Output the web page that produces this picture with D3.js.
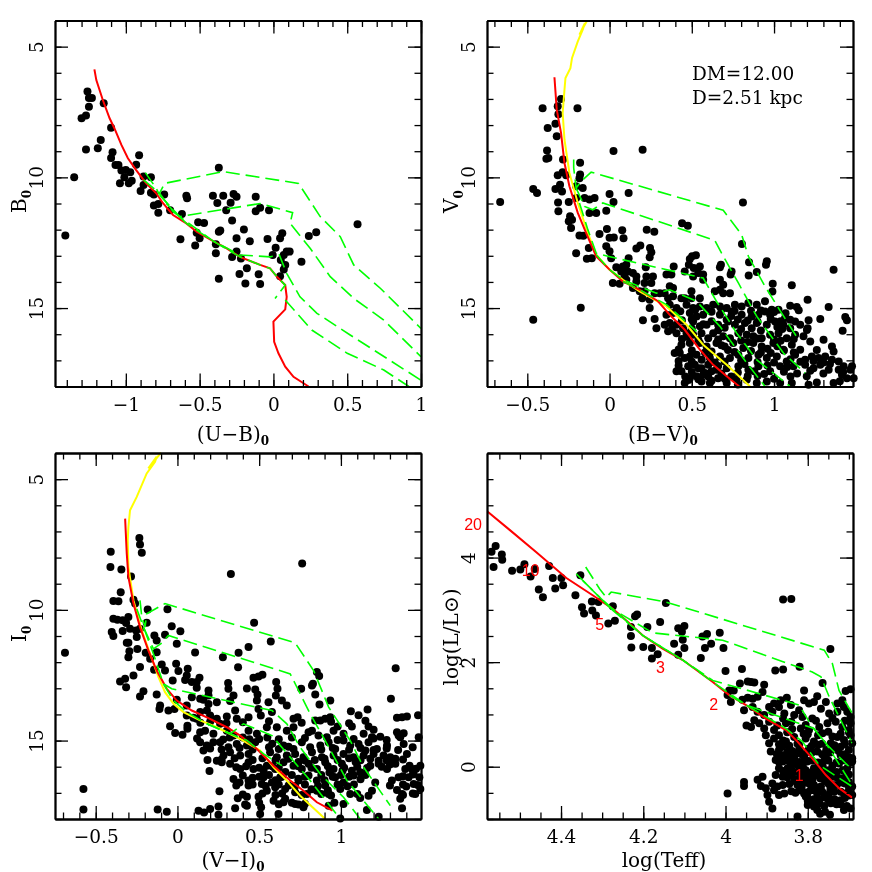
<!DOCTYPE html>
<html>
<head>
<meta charset="utf-8">
<script src="https://cdn.jsdelivr.net/npm/d3@7"></script>
<style>
  body { margin: 0; background: #fff; }
  svg { display: block; filter: blur(0.35px); }
  text { font-family: "DejaVu Serif", serif; fill: #000; }
  .tick text { font-size: 18.5px; }
  .axis path, .axis line { stroke: #000; stroke-width: 1.3; }
  .axis path { stroke-width: 1.8; }
</style>
</head>
<body>
<div id="chart"></div>
<script>
// stars, [colour, magnitude]
var ubStars = [[-1.26,6.72],[-1.25,6.96],[-1.23,6.96],[-1.25,7.3],[-1.27,7.63],[-1.3,7.74],[-1.15,7.17],[-1.1,8.1],[-1.17,8.57],[-1.19,8.89],[-1.27,8.93],[-1.09,9.04],[-1.1,9.26],[-0.91,9.15],[-0.93,9.52],[-1.07,9.53],[-1.05,9.53],[-1.03,9.74],[-1,9.72],[-0.97,9.8],[-1.01,10],[-0.98,10.23],[-0.96,10.13],[-1.04,10.23],[-1.35,10],[-1.41,12.22],[-0.9,10.52],[-0.88,10.29],[-0.88,9.97],[-0.83,10],[-0.83,10.59],[-0.81,10.66],[-0.81,11.08],[-0.78,11.02],[-0.78,11.35],[-0.74,10.66],[-0.7,11.26],[-0.62,11.4],[-0.59,10.7],[-0.585,10.8],[-0.51,11.72],[-0.47,11.75],[-0.52,12.12],[-0.5,12.33],[-0.63,12.37],[-0.53,12.61],[-0.39,12.56],[-0.39,12.9],[-0.37,12.08],[-0.36,12.03],[-0.41,10.7],[-0.34,10.7],[-0.37,9.63],[-0.38,10.98],[-0.29,10.97],[-0.27,10.64],[-0.25,10.74],[-0.32,11.26],[-0.28,11.65],[-0.2,11.99],[-0.25,12.33],[-0.16,12.44],[-0.12,10.74],[-0.12,11.3],[-0.09,11.16],[-0.03,11.26],[-0.04,12.36],[0.045,12.33],[0.06,12.14],[0.015,12.69],[-0.005,12.97],[0.07,12.97],[0.09,12.84],[0.11,12.84],[0.05,13.16],[0.08,13.35],[0.07,13.52],[0.045,13.78],[0.19,13.23],[-0.25,12.84],[-0.28,13.05],[-0.22,13.1],[-0.18,13.48],[-0.23,13.7],[-0.19,14.06],[-0.1,13.71],[-0.09,14.08],[-0.37,13.88],[0.24,12.24],[0.29,12.1],[0.57,11.79]];
var ubRed = [[-1.213,5.87],[-1.2,6.28],[-1.156,7.04],[-1.11,7.74],[-1.077,8.13],[-1.03,8.76],[-0.986,9.27],[-0.93,9.72],[-0.862,10.23],[-0.794,10.61],[-0.748,10.99],[-0.68,11.44],[-0.59,11.76],[-0.52,12.08],[-0.408,12.44],[-0.317,12.72],[-0.227,13.04],[-0.09,13.35],[-0.023,13.48],[0.023,13.8],[0.08,14.12],[0.09,14.57],[0.08,15.05],[0,15.52],[0.005,16.29],[0.034,16.73],[0.08,17.24],[0.136,17.63],[0.238,18]];
var ubGreen = [
  [[-0.868,9.82],[-0.794,10.42],[-0.775,10.64],[-0.737,10.23],[-0.34,9.78],[0.17,10.23],[0.317,11.5],[0.453,12.27],[0.544,13.35],[0.726,14.25],[1,15.78]],
  [[-0.88,10.1],[-0.771,10.61],[-0.68,11.31],[-0.635,11.5],[-0.09,11],[0.13,11.35],[0.113,11.76],[0.25,12.72],[0.385,13.8],[0.544,14.63],[0.748,15.46],[1,16.86]],
  [[-0.771,10.68],[-0.635,11.5],[-0.408,12.44],[-0.227,12.97],[-0.023,13.04],[0.04,12.97],[0.09,13.67],[0.18,14.57],[0.295,15.2],[0.52,16.03],[1,17.76]],
  [[-0.726,11],[-0.59,11.76],[-0.408,12.44],[-0.227,13.04],[-0.09,13.35],[-0.023,13.48],[0.023,13.8],[0.08,14.12],[0.011,14.63]],
  [[0.08,14.69],[0.26,15.84],[0.5,16.73],[0.748,17.37],[0.918,18]]
];

var bvStars = [[-0.295,7],[-0.315,7.28],[-0.407,7.36],[-0.195,7.36],[-0.311,7.59],[-0.329,7.95],[-0.376,8.11],[-0.321,8.43],[-0.38,8.97],[-0.372,9.26],[-0.384,9.29],[-0.283,9.32],[-0.179,9.44],[-0.315,9.92],[-0.285,9.8],[-0.264,9.92],[-0.179,9.89],[-0.183,10.03],[-0.329,10.45],[-0.301,10.28],[-0.289,10.54],[-0.203,10.34],[-0.163,10.41],[-0.464,10.45],[-0.441,10.6],[-0.665,10.94],[-0.313,10.96],[-0.311,11.3],[-0.248,10.94],[-0.203,10.79],[-0.152,10.79],[-0.122,10.85],[-0.091,10.79],[0,10.64],[0.116,10.6],[0.024,10.94],[-0.02,11.28],[-0.081,11.36],[-0.122,11.36],[-0.24,11.49],[-0.228,11.62],[-0.248,11.68],[-0.234,11.94],[-0.183,12.22],[-0.159,12.23],[-0.016,11.98],[-0.061,12.17],[0.077,12.02],[0.226,12],[0.272,12.08],[0,12.31],[0.026,12.3],[0.085,12.33],[0.441,11.76],[0.476,11.85],[0.024,8.99],[0.201,8.94],[0.811,10.96],[0.805,12.55],[-0.203,12.9],[-0.126,12.7],[-0.138,13.11],[-0.108,13.09],[-0.02,12.64],[0,12.83],[0.163,12.72],[0.187,12.61],[0.246,12.7],[0.254,12.86],[0.244,13.06],[0.01,13.09],[0.116,13.09],[0.502,13.02],[0.525,12.98],[0.488,13.12],[0.482,13.34],[0.512,13.47],[0.549,13.41],[0.677,13.34],[0.671,13.44],[0.742,13.6],[0.736,13.72],[0.848,13.25],[0.956,13.21],[0.951,13.34],[0.895,13.62],[0.846,13.75],[1.362,13.53],[0.992,14.07],[0.99,14.37],[1.108,14.13],[0.041,13.44],[0.081,13.41],[0.102,13.34],[0.071,13.6],[0.112,13.6],[0.091,13.79],[0.142,13.66],[0.163,13.79],[0.22,13.44],[0.346,13.72],[0.39,13.41],[0.376,13.72],[0.224,13.79],[0.264,13.79],[0.213,14.04],[0.254,14.04],[0.163,13.98],[0.02,14.04],[0.061,14.07],[0.102,13.92],[0.142,14.23],[0.183,14.36],[0.213,14.36],[0.274,14.43],[0.305,14.43],[0.366,14.17],[0.386,14.23],[0.335,14.43],[0.356,14.62],[0.386,14.55],[0.457,13.6],[0.539,13.66],[0.569,13.72],[0.569,13.92],[0.508,13.79],[0.671,13.92],[0.691,14.11],[0.671,14.3],[0.64,14.36],[0.691,14.43],[0.732,14.43],[0.498,14.36],[0.457,14.62],[0.437,14.62],[0.498,14.62],[0.549,14.62],[0.199,14.62],[0.244,14.68],[0.244,15],[0.203,15.47],[0.274,15.42],[0.285,15.77],[-0.175,14.99],[-0.464,15.45],
  [0.366,14.87],[0.407,15],[0.468,14.87],[0.508,15],[0.549,14.94],[0.59,15],[0.63,14.87],[0.671,14.94],[0.712,15],[0.762,14.87],[0.803,14.94],[0.844,14.81],[0.895,14.87],[0.945,14.74],[0.986,15.06],[1.027,15.06],[1.098,14.91],[1.138,14.96],[1.204,14.68],[1.332,14.96],
  [0.346,15.26],[0.386,15.19],[0.488,15.19],[0.529,15.32],[0.569,15.26],[0.671,15.26],[0.712,15.45],[0.742,15.13],[0.803,15.26],[0.864,15.32],[0.905,15.26],[0.945,15.13],[0.976,15.26],[1.067,15.38],[1.098,15.45],[1.128,15.51],[1.21,15.47],[1.281,15.42],[1.433,15.34],[1.443,15.47],
  [0.335,15.64],[0.366,15.57],[0.407,15.64],[0.447,15.77],[0.508,15.51],[0.549,15.7],[0.59,15.64],[0.66,15.64],[0.72,15.51],[0.762,15.64],[0.823,15.57],[0.864,15.77],[0.895,15.57],[0.956,15.64],[1.006,15.51],[1.057,15.64],[1.098,15.77],[1.159,15.64],[1.204,15.77],[1.417,15.87],
  [0.356,15.89],[0.407,15.96],[0.468,15.96],[0.508,16.02],[0.559,15.96],[0.63,15.96],[0.691,16.08],[0.732,16.15],[0.783,15.96],[0.834,16.02],[0.874,16.08],[0.925,16.15],[0.976,16.02],[1.027,15.96],[1.077,16.15],[1.128,16.02],[1.179,16.08],
  [0.488,16.34],[0.437,16.4],[0.549,16.34],[0.59,16.47],[0.65,16.34],[0.7,16.47],[0.752,16.34],[0.813,16.53],[0.874,16.34],[0.925,16.47],[0.996,16.34],[1.057,16.59],[1.108,16.4],[1.159,16.59],[1.22,16.28],[1.301,16.21],[1.352,16.47],[1.362,16.66],
  [0.396,16.72],[0.427,16.72],[0.457,16.91],[0.488,16.85],[0.529,16.79],[0.61,16.91],[0.671,16.85],[0.732,16.91],[0.783,16.79],[0.844,16.91],[0.905,16.79],[0.956,16.91],[1.017,16.85],[1.077,17.04],[1.128,16.79],[1.189,16.98],[1.23,16.85],[1.27,16.91],[1.311,16.85],[1.352,16.98],[1.393,17.04],
  [0.407,17.42],[0.437,17.42],[0.478,17.23],[0.518,17.17],[0.559,17.3],[0.6,17.17],[0.65,17.36],[0.712,17.3],[0.783,17.23],[0.844,17.36],[0.905,17.23],[0.976,17.42],[1.037,17.23],[1.118,17.23],[1.189,17.17],[1.24,17.3],[1.281,17.17],[1.332,17.36],[1.393,17.36],[1.423,17.23],[1.474,17.23],
  [0.457,17.87],[0.488,17.68],[0.529,17.61],[0.559,17.81],[0.61,17.87],[0.569,17.55],[0.66,17.68],[0.712,17.87],[0.773,17.74],[0.834,17.74],[0.895,17.87],[0.956,17.81],[1.037,17.87],[1.108,17.87],[1.199,17.61],[1.21,17.93],[1.362,17.87],[1.413,17.55],[1.443,17.68],[1.484,17.68],[1.464,17.36],
  [0.43,15.12],[0.52,15.07],[0.62,15.14],[0.68,15.05],[0.76,15.11],[0.92,15.09],[1,15.15],[1.15,15.08],[0.44,15.47],[0.5,15.43],[0.62,15.5],[0.78,15.44],[0.84,15.48],[0.98,15.42],[1.04,15.5],[1.07,15.2],[0.38,15.82],[0.5,15.78],[0.66,15.85],[0.7,15.75],[0.8,15.8],[0.92,15.86],[1.05,15.8],[1.2,15.84],[0.44,16.18],[0.54,16.22],[0.6,16.15],[0.66,16.2],[0.8,16.24],[0.9,16.16],[1,16.2],[1.04,16.25],[1.12,16.18],[0.42,16.58],[0.5,16.62],[0.62,16.66],[0.72,16.6],[0.86,16.64],[0.96,16.56],[1.06,16.62],[1.12,16.7],[1.26,16.6],[0.42,17.02],[0.5,17.05],[0.56,16.98],[0.64,17.08],[0.7,17.04],[0.8,17],[0.9,17.06],[1,17.08],[1.1,16.96],[1.16,17.05],[1.24,17.02],[1.3,17.08],[0.42,17.2],[0.5,17.45],[0.58,17.48],[0.62,17.42],[0.68,17.5],[0.78,17.46],[0.88,17.42],[0.94,17.52],[1.06,17.44],[1.14,17.5],[1.3,17.5],[1.42,17.45],[0.48,17.75],[0.54,17.72],[0.62,17.78],[0.7,17.7],[0.78,17.92],[0.9,17.6],[1,17.7],[1.1,17.62],[1.26,17.85],[1.4,17.8],
  [0.57,15.62],[0.74,15.3],[0.86,15.1],[0.9,15.52],[1.02,15.72],[0.47,16.1],[0.58,16.7],[0.68,16.42],[0.76,16.68],[0.84,16.3],[0.92,16.7],[1.02,16.46],[0.54,17.3],[0.6,17.62],[0.66,17.22],[0.74,17.62],[0.82,17.14],[0.98,16.72],[1.08,17.25],[1.22,17.4],[1.34,17.14],[0.46,17.62],[0.84,17.6],[0.96,17.2]];
var bvYellow = [[-0.136,4],[-0.183,4.54],[-0.15,4.1],[-0.163,4.35],[-0.193,4.8],[-0.228,5.43],[-0.238,5.82],[-0.268,6.2],[-0.274,6.65],[-0.285,7.54],[-0.274,8.56],[-0.244,9.83],[-0.193,10.98],[-0.132,12.13],[-0.081,12.96],[0,13.53],[0.081,13.92],[0.183,14.36],[0.346,14.94],[0.468,15.64],[0.569,16.4],[0.712,17.17],[0.854,18]];
var bvRed = [[-0.335,6.17],[-0.321,7.41],[-0.295,8.3],[-0.274,9.45],[-0.244,10.34],[-0.193,11.36],[-0.142,12.13],[-0.081,13.02],[0,13.53],[0.081,13.98],[0.183,14.3],[0.295,14.74],[0.366,15.26],[0.457,15.83],[0.549,16.59],[0.63,17.17],[0.712,17.61],[0.789,18]];
var bvGreen = [
  [[-0.218,9.32],[-0.218,9.64],[-0.203,10.41],[-0.173,10.15],[-0.112,9.8],[0.691,11.26],[0.803,12.19],[0.844,13.02],[0.945,14.17],[1.027,15],[1.149,16.21]],
  [[-0.203,10.41],[-0.152,11.11],[-0.102,11.24],[-0.041,10.98],[0.64,12.41],[0.681,12.9],[0.783,14.04],[0.895,15.32],[1.057,16.72],[1.189,17.49]],
  [[-0.183,10.98],[-0.132,12],[-0.081,12.9],[-0.01,13.02],[0.569,13.85],[0.65,14.74],[0.773,15.96],[0.895,16.98],[1.098,18]],
  [[-0.081,12.96],[0,13.53],[0.081,13.92],[0.285,14.43],[0.366,14.3],[0.529,14.74],[0.671,15.7],[0.834,17.1],[0.945,18]],
  [[0.081,13.98],[0.183,14.3],[0.346,14.87],[0.529,15.89]]
];

var viStars = [[-0.233,7.25],[-0.229,7.5],[-0.218,7.82],[-0.408,7.78],[-0.41,8.36],[-0.343,8.46],[-0.284,8.72],[0.327,8.63],[0.763,8.23],[-0.347,9.33],[-0.392,9.66],[-0.361,9.67],[-0.269,9.61],[-0.259,9.76],[-0.182,9.99],[-0.061,9.98],[0.469,10.49],[-0.392,10.34],[-0.367,10.38],[-0.335,10.4],[-0.3,10.27],[-0.314,10.5],[-0.188,10.49],[-0.035,10.63],[0.018,10.82],[-0.076,10.95],[-0.402,10.85],[-0.392,11],[-0.335,10.81],[-0.29,10.72],[-0.253,10.79],[-0.229,10.72],[-0.249,11.04],[-0.141,10.98],[-0.127,11.17],[-0.3,11.26],[-0.31,11.26],[-0.004,11.3],[0.571,11.21],[0.435,11.42],[0.374,11.64],[0.108,11.63],[0.278,11.81],[-0.294,11.58],[-0.3,11.81],[-0.245,11.5],[-0.194,11.64],[-0.127,11.62],[-0.167,11.87],[-0.229,12.19],[-0.143,12.29],[-0.008,12.06],[-0.096,12.09],[-0.076,12.32],[0.006,12.34],[0.063,12.25],[0.371,12.2],[1.335,12.23],[-0.269,12.51],[-0.32,12.64],[-0.351,12.74],[-0.314,12.96],[-0.029,12.7],[0.057,12.51],[0.047,12.68],[0.135,12.6],[0.118,12.76],[0.088,12.76],[-0.208,13.11],[-0.229,13.31],[-0.127,13.24],[0.118,12.98],[0.19,13.08],[0.31,12.8],[0.312,13.02],[0.425,13.01],[0.465,12.6],[0.496,12.55],[0.52,12.48],[0.476,13.05],[0.604,12.76],[0.612,13.02],[0.49,13.24],[0.602,13.28],[0.757,13.02],[0.829,12.83],[0.853,12.38],[0.867,12.53],[0.823,12.89],[0.843,13.24],[1.306,13.4],[0.935,13.47],[0.869,13.62],[0.343,13.28],[0.19,13.28],[0.159,13.44],[0.139,13.4],[0.088,13.34],[-0.004,13.44],[-0.106,13.66],[-0.11,13.79],[-0.055,13.85],[-0.018,13.79],[0.057,13.66],[0.19,13.6],[0.241,13.53],[0.322,13.49],[0.486,13.47],[0.557,13.53],[0.639,13.47],[0.669,13.66],[0.353,13.85],[0.496,13.79],[0.51,14.04],[0.578,13.91],[1.061,13.88],[1.108,14.03],[1.163,13.81],[1.472,14.03],[1.343,14.13],[1.374,14.11],[1.404,14.08],[0.935,14.11],[0.904,14.17],[0.874,14.23],[0.843,14.23],[0.735,14.11],[0.71,14.17],[0.302,14.08],[0.363,14.17],[0.435,14.11],[0.18,13.85],[0.2,14.04],[0.139,13.91],[0.057,14.04],[0.098,14.13],[-0.045,14.45],[-0.014,14.71],[0.031,14.78],[0.061,14.55],[0.061,14.43],[0.118,14.17],[0.241,14.17],[0.261,14.36],[0.98,14.46],[0.955,14.62],[1.067,14.46],[1.169,14.46],[1.2,14.59],[1.241,14.85],[1.343,14.68],[1.384,14.72],[1.363,14.87],[1.476,14.87],[1.353,14.81],
  [0.139,14.68],[0.169,14.62],[0.22,14.74],[0.302,14.62],[0.343,14.81],[0.435,14.62],[0.486,14.74],[0.547,14.49],[0.608,14.49],[0.669,14.62],[0.71,14.49],[0.802,14.68],[0.823,14.62],[0.863,14.81],[0.914,14.87],[1.016,14.74],[1.078,14.94],[1.139,14.74],[1.19,14.87],[1.282,15.19],
  [0.139,15.06],[0.18,15.19],[0.159,15.38],[0.22,15.06],[0.261,15.06],[0.312,15.26],[0.363,15.13],[0.425,15.19],[0.476,15.06],[0.649,15.19],[0.71,15.32],[0.761,15.06],[0.812,15.26],[0.874,15.19],[0.925,15.06],[0.965,15.32],[1.016,15],[1.057,15.19],[1.108,15.13],[1.169,15.06],[1.22,15.32],[1.384,15.13],[1.404,15.51],[1.439,15.26],
  [0.184,15.74],[0.241,15.77],[0.282,15.57],[0.322,15.45],[0.384,15.57],[0.435,15.51],[0.567,15.45],[0.608,15.64],[0.669,15.57],[0.72,15.51],[0.771,15.64],[0.823,15.45],[0.884,15.64],[0.955,15.57],[1.016,15.51],[1.078,15.64],[1.139,15.57],[1.2,15.51],[1.261,15.57],[1.302,15.64],[1.333,15.7],[1.231,15.77],
  [0.196,16.16],[0.271,15.83],[0.322,15.89],[0.384,16.09],[0.435,15.83],[0.465,16.09],[0.547,15.96],[0.527,16.15],[0.598,16.09],[0.649,15.83],[0.71,15.96],[0.761,16.09],[0.802,15.89],[0.853,16.09],[0.904,15.83],[0.955,16.09],[1.006,15.89],[1.067,16.15],[1.118,16.21],[1.18,15.96],[1.231,15.89],[1.282,16.09],[1.333,15.89],[1.394,16.09],[1.435,16.09],[1.486,15.96],[1.445,16.28],
  [0.343,16.47],[0.38,16.6],[0.435,16.53],[0.435,16.72],[0.527,16.4],[0.516,16.66],[0.578,16.6],[0.629,16.4],[0.68,16.72],[0.741,16.53],[0.802,16.34],[0.853,16.53],[0.904,16.72],[0.965,16.4],[1.016,16.6],[1.078,16.34],[1.129,16.28],[1.21,16.6],[1.312,16.53],[1.353,16.4],[1.414,16.4],[1.445,16.66],
  [0.257,16.94],[0.425,17.15],[0.369,17.21],[0.496,17.15],[0.547,16.92],[0.598,16.79],[0.659,16.85],[0.72,16.98],[0.659,17.23],[0.792,17.04],[0.853,16.92],[0.925,17.04],[0.996,16.85],[1.057,17.04],[1.118,17.2],[1.169,17.11],[1.19,16.92],[1.343,16.89],[1.374,17.04],[1.455,17.04],[1.486,16.85],[1.363,17.23],
  [0.588,17.3],[0.649,17.36],[0.72,17.43],[0.741,17.45],[0.425,17.49],[0.414,17.45],[0.512,17.55],[0.353,17.59],[0.251,17.52],[0.2,17.62],[0.251,17.84],[0.129,17.68],[0.163,17.75],[-0.121,17.64],[-0.065,17.72],[0.506,17.81],[0.618,17.81],[0.771,17.55],[0.925,17.49],[1.016,17.43],[1.374,17.59],[1.159,17.66],[0.996,17.98],[1.231,17.91],[-0.575,16.85],[-0.575,17.64],[-0.688,11.64],
  [0.14,14.32],[0.2,14.28],[0.3,14.34],[0.4,14.3],[0.56,14.26],[0.76,14.32],[0.94,14.28],[1.05,14.34],[1.15,14.24],[0.12,14.92],[0.28,14.96],[0.4,14.88],[0.5,14.94],[0.55,14.88],[0.62,14.95],[0.78,14.9],[0.98,14.98],[1.2,14.92],[1.28,14.98],[0.2,15.3],[0.27,15.34],[0.38,15.28],[0.46,15.34],[0.56,15.26],[0.62,15.32],[0.68,15.24],[0.88,15.34],[0.95,15.28],[1.05,15.35],[1.12,15.28],[1.2,15.36],[1.28,15.3],[1.35,15.36],[0.27,15.72],[0.35,15.68],[0.46,15.74],[0.52,15.68],[0.6,15.74],[0.68,15.7],[0.78,15.76],[0.9,15.7],[0.98,15.74],[1.05,15.68],[1.12,15.75],[1.18,15.7],[1.28,15.76],[1.38,15.72],[0.36,16.02],[0.42,15.98],[0.5,16.04],[0.58,15.98],[0.62,16.04],[0.74,15.98],[0.82,16.04],[0.92,15.98],[1.02,16.04],[1.1,16],[1.16,16.05],[1.25,16],[1.42,15.96],[1.46,16.08],[0.4,16.34],[0.5,16.38],[0.56,16.32],[0.64,16.38],[0.7,16.32],[0.78,16.38],[0.88,16.32],[0.95,16.38],[1,16.32],[1.05,16.38],[1.15,16.32],[1.38,16.36],[1.44,16.3],[1.48,16.4],[0.36,16.72],[0.46,16.68],[0.54,16.74],[0.62,16.68],[0.72,16.74],[0.78,16.68],[0.86,16.74],[0.98,16.68],[1.04,16.75],[1.08,16.68],[1.3,16.72],[1.38,16.68],[1.4,16.76],[1.47,16.7],[0.4,17.06],[0.52,17.02],[0.6,17.08],[0.64,17.02],[0.76,17.08],[0.88,17.04],[0.94,17.1],[1.1,17.04],[1.38,17.08],[1.44,17.02],[0.5,17.38],[0.62,17.44],[0.7,17.38],[0.78,17.42],[0.96,17.38],
  [0.74,15.82],[0.84,15.74],[0.93,16.22],[1.09,15.82],[1.15,15.38],[1.3,15.92],[0.66,16.2],[0.74,16.46],[0.9,16.52],[1.01,16.15],[1.12,16.48],[0.6,16.52],[0.82,16.86],[0.92,16.9],[0.58,15.12],[0.44,14.95],[0.7,14.88],[0.32,14.88],[0.46,16.42]];
var viYellow = [[-0.1,3.99],[-0.178,4.59],[-0.127,4.14],[-0.137,4.34],[-0.188,4.78],[-0.249,5.68],[-0.29,6.19],[-0.3,6.83],[-0.304,7.34],[-0.3,8.36],[-0.269,9.64],[-0.218,10.79],[-0.167,11.68],[-0.116,12.57],[-0.076,13.15],[-0.024,13.59],[0.037,13.91],[0.139,14.23],[0.241,14.49],[0.384,14.94],[0.506,15.38],[0.588,16.02],[0.669,16.53],[0.751,17.11],[0.904,18]];
var viRed = [[-0.32,6.51],[-0.31,7.85],[-0.3,8.74],[-0.269,9.76],[-0.229,10.66],[-0.178,11.55],[-0.127,12.32],[-0.065,13.02],[-0.004,13.47],[0.088,13.85],[0.18,14.11],[0.302,14.49],[0.384,14.81],[0.486,15.32],[0.588,15.96],[0.69,16.53],[0.771,16.92],[0.853,17.36],[0.949,17.68]];
var viGreen = [
  [[-0.229,9.64],[-0.218,10.27],[-0.198,10.66],[-0.188,10.15],[-0.076,9.76],[0.72,11.26],[0.833,12.32],[0.925,13.72],[1.057,15],[1.139,16.02],[1.302,17.49]],
  [[-0.208,10.66],[-0.147,11.49],[-0.096,11.27],[-0.055,10.98],[0.69,12.45],[0.731,12.96],[0.812,13.98],[0.904,15],[1.037,16.53],[1.231,18]],
  [[-0.249,9.96],[-0.147,11.68],[-0.086,12.83],[-0.035,13.02],[0.578,13.85],[0.669,14.36],[0.751,15.26],[0.874,16.28],[1.016,17.17],[1.118,18]],
  [[-0.086,12.83],[-0.024,13.47],[0.057,13.91],[0.18,14.36],[0.322,14.74],[0.404,14.36],[0.578,14.81],[0.69,15.64],[0.812,16.53],[0.996,18]],
  [[0.18,14.36],[0.322,14.74],[0.425,15],[0.527,15.51],[0.639,15.96]]
];

var hrStars = [[4.569,4.11],[4.559,4.22],[4.544,4.06],[4.543,3.96],[4.564,3.82],[4.519,3.75],[4.499,3.77],[4.489,3.87],[4.464,3.78],[4.474,3.64],[4.429,3.84],[4.42,3.61],[4.399,3.61],[4.414,3.41],[4.395,3.47],[4.454,3.39],[4.444,3.24],[4.365,3.28],[4.353,3.66],[4.349,3.05],[4.344,2.93],[4.325,3.16],[4.324,2.99],[4.315,2.89],[4.309,3.15],[4.274,3.07],[4.285,2.74],[4.269,2.79],[4.22,2.88],[4.215,2.91],[4.23,2.67],[4.23,2.5],[4.229,2.28],[4.2,2.29],[4.179,2.27],[4.179,2.07],[4.165,2.15],[4.19,2.67],[4.159,2.77],[4.115,2.65],[4.1,2.69],[4.106,2.58],[4.104,2.43],[4.1,2.27],[4.125,2.35],[4.115,2.14],[4.06,2.08],[4.05,2.27],[4.035,2.35],[4.056,2.49],[4.045,2.54],[4.014,2.56],[4.005,2.27],[4.145,3.13],[3.86,3.2],[3.84,3.21],[3.745,2.25],[3.879,1.84],[3.86,1.86],[3.82,1.91],[4,1.83],[3.96,1.87],[3.965,1.59],[3.946,1.63],[3.938,1.62],[3.93,1.61],[3.906,1.57],[3.764,1.6],[3.991,1.46],[3.98,1.46],[3.995,1.37],[3.987,1.24],[3.959,1.28],[3.946,1.32],[3.934,1.3],[3.922,1.34],[3.91,1.43],[3.696,1.48],[3.708,1.45],[3.809,1.46],[3.809,1.27],[3.777,1.35],[3.851,1.32],[3.866,1.27],[3.882,1.21],[3.894,1.14],[3.87,1.14],[3.841,1.18],[3.821,1.08],[3.797,1.21],[3.785,1.24],[3.756,1.24],[3.728,1.21],[3.716,1.27],[3.949,0.79],[3.938,0.76],[3.995,-0.51],[3.955,-0.29],[3.955,-0.37],[3.922,-0.25],[3.914,-0.37],[3.91,-0.19],[3.825,-0.95],[3.746,-0.92],[3.886,-0.8],[3.894,-0.67],[3.902,-0.41],[3.898,-0.54],
  [3.955,1.08],[3.934,1.14],[3.922,1.05],[3.906,0.99],[3.886,1.05],[3.857,1.02],[3.833,0.99],[3.813,0.95],[3.789,0.92],[3.768,1.11],[3.748,1.02],[3.728,1.05],[3.712,1.14],[3.696,0.95],[3.704,1.05],
  [3.93,0.89],[3.918,0.83],[3.906,0.73],[3.894,0.86],[3.874,0.79],[3.853,0.83],[3.84,0.86],[3.817,0.73],[3.797,0.7],[3.772,0.76],[3.752,0.83],[3.732,0.86],[3.716,0.76],[3.696,0.83],[3.7,0.7],
  [3.902,0.6],[3.894,0.45],[3.882,0.54],[3.87,0.6],[3.853,0.48],[3.833,0.57],[3.821,0.41],[3.805,0.54],[3.785,0.48],[3.764,0.64],[3.744,0.45],[3.728,0.57],[3.712,0.51],[3.696,0.6],[3.692,0.45],[3.882,0.7],
  [3.89,0.29],[3.87,0.32],[3.857,0.22],[3.845,0.35],[3.829,0.25],[3.809,0.19],[3.797,0.35],[3.777,0.29],[3.756,0.19],[3.736,0.35],[3.72,0.22],[3.7,0.32],[3.692,0.16],[3.878,0.13],[3.841,0.19],[3.821,0.32],
  [3.861,0.1],[3.849,-0.03],[3.833,0.06],[3.817,-0.06],[3.801,0.1],[3.785,-0.03],[3.764,0.03],[3.744,-0.06],[3.724,0.06],[3.704,-0.03],[3.692,0.1],[3.878,-0.16],[3.853,-0.13],[3.825,0.03],
  [3.813,-0.19],[3.797,-0.32],[3.781,-0.16],[3.76,-0.25],[3.74,-0.35],[3.72,-0.22],[3.7,-0.29],[3.692,-0.38],[3.833,-0.25],[3.789,-0.25],[3.861,-0.19],[3.886,-0.32],[3.874,-0.38],[3.861,-0.35],[3.768,-0.38],[3.748,-0.16],
  [3.882,-0.45],[3.87,-0.54],[3.857,-0.51],[3.809,-0.51],[3.793,-0.45],[3.777,-0.51],[3.756,-0.54],[3.736,-0.48],[3.712,-0.51],[3.789,-0.67],[3.772,-0.7],[3.744,-0.7],[3.72,-0.64],[3.777,-0.83],[3.785,-0.76],[3.712,-0.83],[3.696,-0.8],[3.805,-0.57],[3.692,-0.54],
  [3.86,0.92],[3.78,0.88],[3.74,0.93],[3.71,0.88],[3.85,0.66],[3.81,0.63],[3.75,0.67],[3.72,0.63],[3.7,0.66],[3.87,0.43],[3.845,0.4],[3.825,0.44],[3.79,0.4],[3.765,0.44],[3.735,0.41],[3.71,0.43],[3.875,0.24],[3.85,0.27],[3.815,0.24],[3.79,0.27],[3.765,0.24],[3.745,0.27],[3.71,0.24],[3.87,0.09],[3.85,0.12],[3.82,0.09],[3.79,0.12],[3.775,0.08],[3.75,0.12],[3.73,0.08],[3.71,0.12],[3.695,0.08],[3.86,-0.08],[3.84,-0.06],[3.825,-0.1],[3.805,-0.07],[3.775,-0.1],[3.755,-0.07],[3.73,-0.1],[3.715,-0.07],[3.85,-0.2],[3.82,-0.22],[3.805,-0.18],[3.77,-0.22],[3.74,-0.19],[3.71,-0.21],[3.845,-0.33],[3.825,-0.35],[3.81,-0.31],[3.785,-0.35],[3.75,-0.32],[3.73,-0.35],[3.71,-0.32],[3.84,-0.47],[3.82,-0.45],[3.8,-0.49],[3.785,-0.45],[3.765,-0.48],[3.745,-0.45],[3.72,-0.48],[3.7,-0.46],[3.8,-0.6],[3.785,-0.62],[3.76,-0.59],[3.735,-0.62],[3.71,-0.6],[3.8,-0.73],[3.76,-0.75],[3.73,-0.72],[3.705,-0.75],
  [3.838,0.72],[3.805,0.8],[3.775,0.6],[3.74,0.58],[3.86,0.5],[3.8,0.62],[3.775,0.42],[3.72,0.38],[3.862,0.38],[3.838,0.3],[3.802,0.28],[3.755,0.32],[3.725,0.3],[3.862,0.2],[3.832,0.14],[3.805,0.13],[3.76,0.12],[3.7,0.18],[3.842,0.02],[3.812,0.01],[3.772,0.02],[3.74,0.02],[3.87,-0.03],[3.838,-0.14],[3.795,-0.12],[3.765,-0.13],[3.73,-0.2],[3.7,-0.15],[3.83,-0.28],[3.795,-0.24],[3.755,-0.28],[3.72,-0.3],[3.7,-0.38],[3.815,-0.4],[3.78,-0.4],[3.745,-0.38],[3.83,-0.5],[3.75,-0.55],[3.7,-0.55],[3.772,-0.62],[3.75,-0.63],[3.72,-0.72],[3.758,-0.86],[3.8,-0.65],[3.77,-0.9]];
var hrRed = [[4.579,4.88],[4.525,4.53],[4.46,4.1],[4.387,3.61],[4.323,3.28],[4.274,3.02],[4.242,2.8],[4.201,2.51],[4.153,2.26],[4.104,2.04],[4.031,1.62],[3.991,1.37],[3.95,1.18],[3.902,0.92],[3.853,0.7],[3.825,0.48],[3.789,0.16],[3.756,-0.16],[3.724,-0.41],[3.692,-0.59]];
var hrGreen = [
  [[4.34,3.82],[4.306,3.4],[4.29,3.24],[4.278,3.34],[4.145,3.15],[3.76,2.23],[3.74,1.97],[3.724,1.46],[3.692,1.02]],
  [[4.363,3.69],[4.323,3.37],[4.282,3.05],[4.242,2.86],[4.177,2.56],[4.007,2.42],[3.789,1.81],[3.768,1.72],[3.748,1.34],[3.72,0.89],[3.692,0.45]],
  [[4.347,3.56],[4.274,2.99],[4.201,2.51],[4.104,2.04],[4.031,1.65],[3.821,1.18],[3.789,0.76],[3.752,0.41],[3.692,-0.06]],
  [[4.298,3.18],[4.201,2.51],[4.104,2.04],[4.031,1.62],[3.95,1.18],[3.785,0.73],[3.756,0.45],[3.692,-0.35]],
  [[3.991,1.37],[3.853,0.73],[3.813,0.48],[3.772,0.03],[3.692,-0.38]]
];
var massLabels = ["20", "10", "5", "3", "2", "1"];
var massPos = [[4.614,4.64],[4.474,3.75],[4.306,2.72],[4.158,1.9],[4.029,1.2],[3.821,-0.16]];

var magMinor = d3.range(4, 18.5, 1);
var panels = [
  { left: 55, top: 20.5, xDomain: [-1.48, 1], yDomain: [18, 4], xMajor: [-1, -0.5, 0, 0.5, 1], xMinor: d3.range(-1.4, 1.05, 0.1), yMajor: [5, 10, 15], yMinor: magMinor,
    stars: ubStars, red: ubRed, yellow: null, green: ubGreen, xName: "(U−B)", xSub: "0", xLabelX: 233, xLabelY: 441, yName: "B", ySub: "0", yLabelX: 26, yLabelY: 213 },
  { left: 487, top: 20.5, xDomain: [-0.745, 1.48], yDomain: [18, 4], xMajor: [-0.5, 0, 0.5, 1], xMinor: d3.range(-0.7, 1.45, 0.1), yMajor: [5, 10, 15], yMinor: magMinor,
    stars: bvStars, red: bvRed, yellow: bvYellow, green: bvGreen, xName: "(B−V)", xSub: "0", xLabelX: 663, xLabelY: 441, yName: "V", ySub: "0", yLabelX: 458, yLabelY: 213 },
  { left: 55, top: 453, xDomain: [-0.749, 1.49], yDomain: [18, 4], xMajor: [-0.5, 0, 0.5, 1], xMinor: d3.range(-0.7, 1.45, 0.1), yMajor: [5, 10, 15], yMinor: magMinor,
    stars: viStars, red: viRed, yellow: viYellow, green: viGreen, xName: "(V−I)", xSub: "0", xLabelX: 233, xLabelY: 867, yName: "I", ySub: "0", yLabelX: 26, yLabelY: 642 },
  { left: 487, top: 453, xDomain: [4.58, 3.69], yDomain: [-1, 6], xMajor: [4.4, 4.2, 4, 3.8], xMinor: d3.range(3.7, 4.6, 0.05), yMajor: [0, 2, 4], yMinor: d3.range(-1, 6.1, 0.5),
    stars: hrStars, red: hrRed, yellow: null, green: hrGreen, xName: "log(Teff)", xSub: "", xLabelX: 664, xLabelY: 867, yName: "log(L/L⊙)", ySub: "", yLabelX: 458, yLabelY: 637 }
];

var plotSize = 366;
var svg = d3.select("#chart").append("svg").attr("width", 872).attr("height", 872);
var lineGen = d3.line().curve(d3.curveLinear);

function tickLabel(d) {
  return String(d).replace("-", "−");
}

panels.forEach(function (p, idx) {
  var x = d3.scaleLinear().domain(p.xDomain).range([0, plotSize]);
  var y = d3.scaleLinear().domain(p.yDomain).range([plotSize, 0]);
  var g = svg.append("g").attr("transform", "translate(" + p.left + "," + p.top + ")");
  lineGen.x(function (d) { return x(d[0]); }).y(function (d) { return y(d[1]); });

  g.selectAll("circle").data(p.stars).enter().append("circle")
    .attr("cx", function (d) { return x(d[0]); })
    .attr("cy", function (d) { return y(d[1]); })
    .attr("r", 4)
    .attr("fill", "#000");

  if (p.yellow) {
    g.append("path").attr("d", lineGen(p.yellow)).attr("fill", "none").attr("stroke", "#ffff00").attr("stroke-width", 2);
  }
  g.append("path").attr("d", lineGen(p.red)).attr("fill", "none").attr("stroke", "#ff0000").attr("stroke-width", 2);
  p.green.forEach(function (iso) {
    g.append("path").attr("d", lineGen(iso)).attr("fill", "none").attr("stroke", "#00ff00")
      .attr("stroke-width", 1.6).attr("stroke-dasharray", "14 6");
  });

  // all four sides get ticks pointing inwards, only bottom and left are labelled
  g.append("g").attr("class", "axis").attr("transform", "translate(0," + plotSize + ")")
    .call(d3.axisBottom(x).tickValues(p.xMajor).tickSize(-13).tickSizeOuter(0).tickPadding(11).tickFormat(tickLabel));
  g.append("g").attr("class", "axis").attr("transform", "translate(0," + plotSize + ")")
    .call(d3.axisBottom(x).tickValues(p.xMinor).tickSize(-6.5).tickSizeOuter(0).tickFormat(""));
  g.append("g").attr("class", "axis")
    .call(d3.axisTop(x).tickValues(p.xMajor).tickSize(-13).tickSizeOuter(0).tickFormat(""));
  g.append("g").attr("class", "axis")
    .call(d3.axisTop(x).tickValues(p.xMinor).tickSize(-6.5).tickSizeOuter(0).tickFormat(""));
  var left = g.append("g").attr("class", "axis")
    .call(d3.axisLeft(y).tickValues(p.yMajor).tickSize(-13).tickSizeOuter(0).tickFormat(tickLabel));
  g.append("g").attr("class", "axis")
    .call(d3.axisLeft(y).tickValues(p.yMinor).tickSize(-6.5).tickSizeOuter(0).tickFormat(""));
  g.append("g").attr("class", "axis").attr("transform", "translate(" + plotSize + ",0)")
    .call(d3.axisRight(y).tickValues(p.yMajor).tickSize(-13).tickSizeOuter(0).tickFormat(""));
  g.append("g").attr("class", "axis").attr("transform", "translate(" + plotSize + ",0)")
    .call(d3.axisRight(y).tickValues(p.yMinor).tickSize(-6.5).tickSizeOuter(0).tickFormat(""));
  left.selectAll("text")
    .attr("transform", "rotate(-90)")
    .attr("x", 0).attr("y", -12).attr("dy", 0)
    .attr("text-anchor", "middle");

  var xl = svg.append("text").attr("x", p.xLabelX).attr("y", p.xLabelY).attr("text-anchor", "middle")
    .style("font-size", "20px").text(p.xName);
  if (p.xSub) xl.append("tspan").attr("dy", 4).style("font-size", "12px").style("font-weight", "bold").text(p.xSub);

  var yl = svg.append("text").attr("transform", "translate(" + p.yLabelX + "," + p.yLabelY + ") rotate(-90)")
    .attr("text-anchor", p.ySub ? "start" : "middle")
    .style("font-size", "20px").text(p.yName);
  if (p.ySub) yl.append("tspan").attr("dy", 5).style("font-size", "12px").style("font-weight", "bold").text(p.ySub);

  if (idx === 1) {
    svg.append("text").attr("x", 692).attr("y", 80).style("font-size", "18.5px").text("DM=12.00");
    svg.append("text").attr("x", 692).attr("y", 104).style("font-size", "18.5px").text("D=2.51 kpc");
  }
  if (idx === 3) {
    g.selectAll(".mass").data(massLabels).enter().append("text")
      .attr("class", "mass")
      .attr("x", function (d, i) { return x(massPos[i][0]); })
      .attr("y", function (d, i) { return y(massPos[i][1]); })
      .attr("dy", "0.36em")
      .attr("text-anchor", "middle")
      .style("font-family", "'Liberation Sans', sans-serif")
      .style("font-size", "16px")
      .style("fill", "#ff0000")
      .text(function (d) { return d; });
  }
});
</script>
</body>
</html>
